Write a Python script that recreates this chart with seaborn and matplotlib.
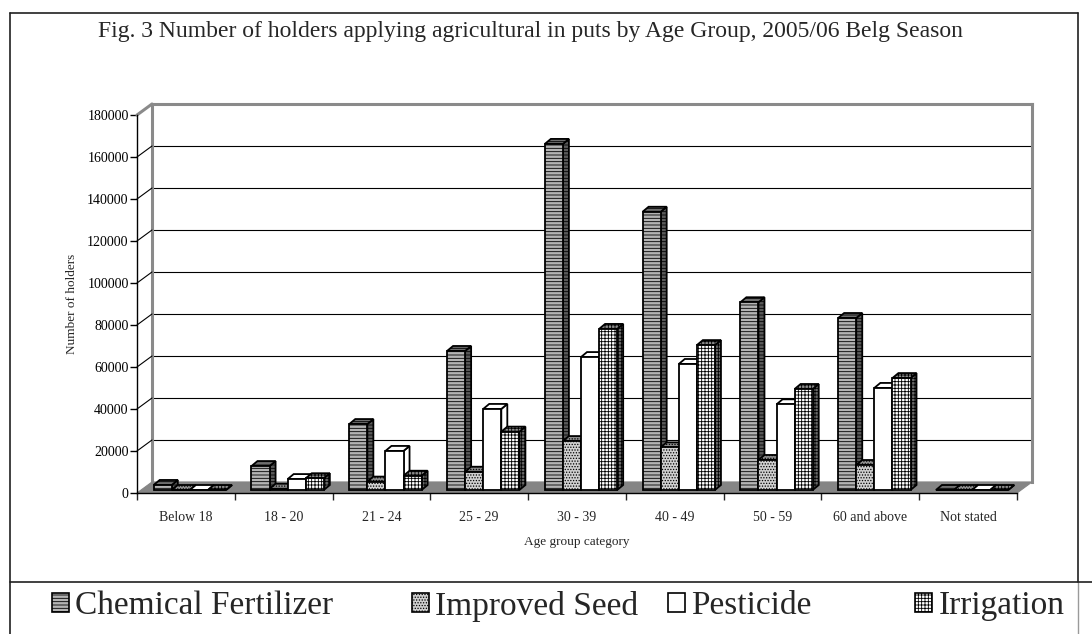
"""Fig. 3 - holders applying agricultural inputs by age group (Belg 2005/06), excel-style 3D bars."""
import matplotlib
matplotlib.use("Agg")
import matplotlib.pyplot as plt
import pandas as pd
import seaborn as sns
from matplotlib.lines import Line2D
from matplotlib.patches import Patch, Polygon
from matplotlib.transforms import Affine2D, IdentityTransform

# --- data -------------------------------------------------------------------
age_groups = ["Below 18", "18 - 20", "21 - 24", "25 - 29", "30 - 39",
              "40 - 49", "50 - 59", "60 and above", "Not stated"]
chemical_fertilizer = [2400, 11400, 31400, 66200, 164800, 132500, 89400, 81900, 0]
improved_seed = [0, 600, 4000, 8700, 23300, 20300, 14300, 11900, 0]
pesticide = [0, 5200, 18600, 38600, 63300, 60000, 40800, 48600, 0]
irrigation = [0, 5600, 6800, 27800, 76700, 69000, 48100, 53300, 0]
series_names = ["Chemical Fertilizer", "Improved Seed", "Pesticide", "Irrigation"]
y_ticks = [0, 20000, 40000, 60000, 80000, 100000, 120000, 140000, 160000, 180000]

df = pd.DataFrame({
    "age": age_groups * 4,
    "series": [s for s in series_names for _ in age_groups],
    "holders": chemical_fertilizer + improved_seed + pesticide + irrigation,
})

# --- styles -----------------------------------------------------------------
front_col = {"Chemical Fertilizer": "#b4b4b4", "Improved Seed": "#cfcfcf",
             "Pesticide": "#ffffff", "Irrigation": "#ffffff"}
side_col = {"Chemical Fertilizer": "#5a5a5a", "Improved Seed": "#707070",
            "Pesticide": "#ffffff", "Irrigation": "#6a6a6a"}
top_col = {"Chemical Fertilizer": "#6e6e6e", "Improved Seed": "#8c8c8c",
           "Pesticide": "#ffffff", "Irrigation": "#8c8c8c"}
hatch = {"Chemical Fertilizer": "-----", "Improved Seed": "......",
         "Pesticide": "", "Irrigation": "+++++"}

sns.set_style("white")
plt.rcParams["font.family"] = ["Liberation Serif", "DejaVu Serif"]
plt.rcParams["hatch.linewidth"] = 0.6

W, H = 1092, 634
fig = plt.figure(figsize=(W / 100, H / 100), dpi=100)

# front plane (axis lines, ticks, bars) and the back wall, shifted for depth
ax = fig.add_axes([137 / W, 141 / H, 880 / W, 378 / H])
wall = fig.add_axes([152 / W, 152 / H, 880 / W, 378 / H])
wall.set_zorder(1)
ax.set_zorder(2)
ax.patch.set_alpha(0)

for a in (ax, wall):
    a.set_xlim(-0.5, len(age_groups) - 0.5)
    a.set_ylim(0, 180000)

# back wall
wall.set_yticks(y_ticks)
wall.set_xticks([])
wall.tick_params(axis="y", length=0, labelleft=False)
wall.yaxis.grid(True, color="black", linewidth=0.8)
for side in ("left", "top", "right"):
    wall.spines[side].set_color("#8a8a8a")
    wall.spines[side].set_linewidth(2.2)
wall.spines["bottom"].set_visible(False)

# bars
sns.barplot(data=df, x="age", y="holders", hue="series", order=age_groups,
            hue_order=series_names, palette=front_col, saturation=1,
            width=0.74, gap=0, edgecolor="black", linewidth=1.3,
            legend=False, ax=ax)
ax.set_xlim(-0.5, len(age_groups) - 0.5)
ax.set_ylim(0, 180000)

# floor and side-wall gridlines
f0 = ax.transData.transform
b0 = wall.transData.transform
left, right = -0.5, len(age_groups) - 0.5
floor = Polygon([f0((left, 0)), f0((right, 0)), b0((right, 0)), b0((left, 0))],
                closed=True, transform=IdentityTransform(), facecolor="#858585",
                edgecolor="#858585", linewidth=0.8, zorder=1, clip_on=False)
ax.add_patch(floor)
for v in y_ticks[1:]:
    top_line = v == y_ticks[-1]
    p, q = f0((left, v)), b0((left, v))
    ax.add_line(Line2D([p[0], q[0]], [p[1], q[1]], transform=IdentityTransform(),
                       color="#8a8a8a" if top_line else "black",
                       linewidth=2.2 if top_line else 0.8, zorder=1, clip_on=False))

# pseudo 3d faces on each bar
dx, dy = 6, 5
shift = ax.transData + Affine2D().translate(4, 3)
bars = []
for cont, name in zip(ax.containers, series_names):
    for b in cont:
        bars.append((b.get_x(), b, name))
bars.sort(key=lambda t: t[0])
for k, (_, b, name) in enumerate(bars):
    z = 3 + 0.01 * k
    b.set_transform(shift)
    b.set_hatch(hatch[name])
    b.set_zorder(z + 0.005)
    x0, y0 = shift.transform((b.get_x(), 0))
    x1, y1 = shift.transform((b.get_x() + b.get_width(), b.get_height()))
    side_face = Polygon([(x1, y0), (x1, y1), (x1 + dx, y1 + dy), (x1 + dx, y0 + dy)],
                        closed=True, transform=IdentityTransform(),
                        facecolor=side_col[name], edgecolor="black", hatch=hatch[name],
                        linewidth=1.3, zorder=z, clip_on=False)
    top_face = Polygon([(x0, y1), (x1, y1), (x1 + dx, y1 + dy), (x0 + dx, y1 + dy)],
                       closed=True, transform=IdentityTransform(),
                       facecolor=top_col[name], edgecolor="black", hatch=hatch[name],
                       linewidth=1.3, zorder=z, clip_on=False)
    ax.add_patch(side_face)
    ax.add_patch(top_face)

ax.set_xlim(left, right)
ax.set_ylim(0, 180000)

# axes, ticks, labels
for side in ("top", "right"):
    ax.spines[side].set_visible(False)
ax.spines["left"].set_color("black")
ax.spines["left"].set_linewidth(1.0)
ax.spines["bottom"].set_color("black")
ax.spines["bottom"].set_linewidth(1.0)
ax.set_yticks(y_ticks)
ax.set_yticklabels([str(v) for v in y_ticks])
ax.tick_params(axis="y", left=True, length=5, width=1, direction="out", pad=1,
               labelsize=10, colors="black")
ax.set_xticks(range(len(age_groups)))
ax.set_xticklabels(age_groups)
ax.set_xticks([i - 0.5 for i in range(len(age_groups) + 1)], minor=True)
ax.tick_params(axis="x", which="major", length=0, pad=13, labelsize=10)
ax.tick_params(axis="x", which="minor", bottom=True, length=5, width=1, direction="out")

ax.set_ylabel("Number of holders", fontsize=9.5)
ax.yaxis.set_label_coords(-0.067, 0.5)
ax.set_xlabel("Age group category", fontsize=9.5)
ax.xaxis.label.set_va("center")
ax.xaxis.set_label_coords(0.5, -0.1296)

fig.text(530 / W, 1 - 32 / H,
         "Fig. 3 Number of holders applying agricultural in puts by Age Group, 2005/06 Belg Season",
         ha="center", va="center", fontsize=17)

# outer frame and legend separator
frame_kw = dict(transform=fig.transFigure, color="#202020", linewidth=1.2)
fig.add_artist(Line2D([10 / W, 10 / W], [0, 1 - 13 / H], **frame_kw))
fig.add_artist(Line2D([10 / W, 1078 / W], [1 - 13 / H, 1 - 13 / H], **frame_kw))
fig.add_artist(Line2D([1078 / W, 1078 / W], [1 - 582 / H, 1 - 13 / H], **frame_kw))
fig.add_artist(Line2D([1078 / W, 1078 / W], [0, 1 - 582 / H], transform=fig.transFigure,
                      color="#9a9a9a", linewidth=1.0))
fig.add_artist(Line2D([10 / W, 1], [1 - 582 / H, 1 - 582 / H], **frame_kw))

# legend entries, each placed under the reference spot
legend_x = [52, 412, 668, 915]
for name, lx in zip(series_names, legend_x):
    handle = Patch(facecolor=front_col[name], edgecolor="black", hatch=hatch[name],
                   linewidth=1.2, label=name)
    fig.legend(handles=[handle], loc="center left", bbox_to_anchor=(lx / W, 1 - 606 / H),
               frameon=False, fontsize=24, handlelength=0.5, handleheight=0.5,
               handletextpad=0.2, borderpad=0, borderaxespad=0)

fig.savefig("out.png", dpi=100)
